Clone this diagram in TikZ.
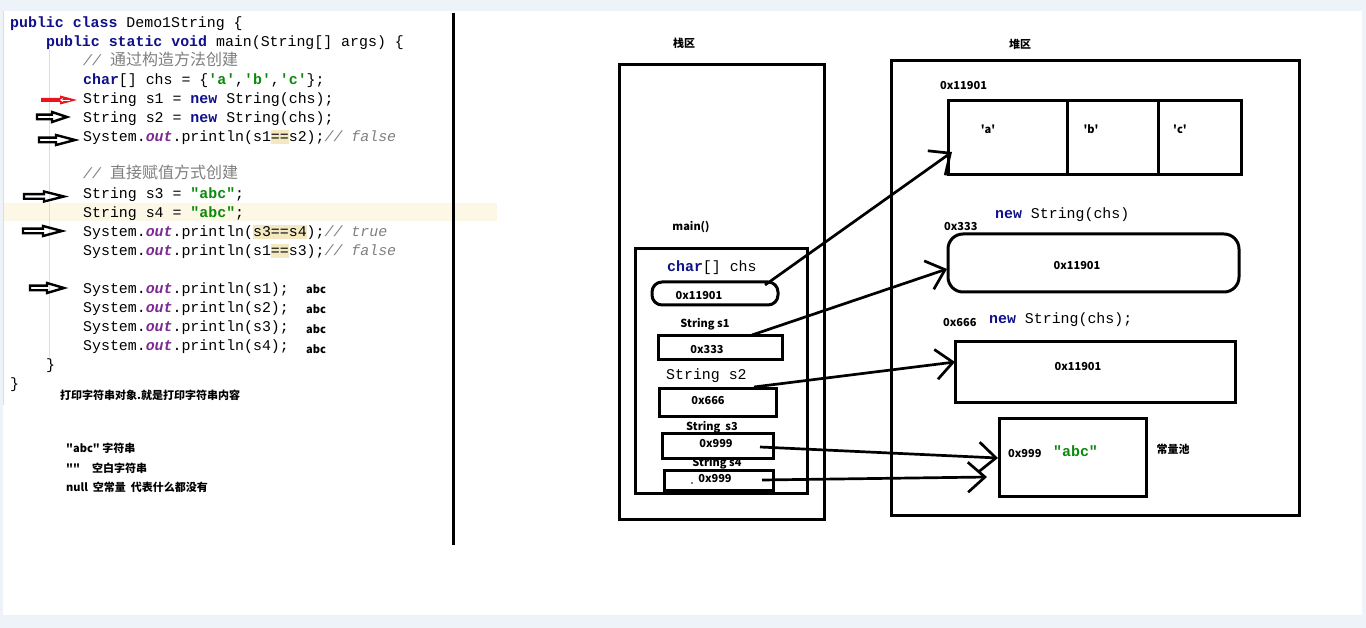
\documentclass[tikz,border=0pt]{standalone}
\usepackage{fontspec}
\usetikzlibrary{arrows.meta}
\setmainfont{Liberation Sans}
\newfontfamily\codefont{Liberation Mono}
\newfontfamily\cjk{Noto Sans CJK SC}
\definecolor{bgc}{HTML}{EEF2F9}
\definecolor{kwc}{HTML}{10108A}
\definecolor{strc}{HTML}{0A8A0A}
\definecolor{outc}{HTML}{7A2A90}
\definecolor{cmtc}{HTML}{808080}
\definecolor{hlc}{HTML}{F3E8C0}
\definecolor{linehl}{HTML}{FDF8E6}
\definecolor{guide}{HTML}{DDDDDD}
\definecolor{redarrow}{HTML}{E8141E}
\newcommand\cK[1]{{\bfseries\color{kwc}#1}}
\newcommand\cS[1]{{\bfseries\color{strc}#1}}
\newcommand\cO{{\bfseries\itshape\color{outc}out}}
\newcommand\cC[1]{{\itshape\color{cmtc}#1}}
\newcommand\cH[1]{{\setlength{\fboxsep}{0pt}\colorbox{hlc}{\vphantom{Ag(}#1}}}
\newcommand\cQ{\textquotesingle}
\newcommand\cZh[1]{{\cjk\fontsize{16}{18}\selectfont\color{cmtc}#1}}
\newcommand\blkarrow[4]{\draw[hollowarrow] (#1,#4-2.3) -- (#2,#4-2.3) -- (#2,#4-5) -- (#3,#4) -- (#2,#4+5) -- (#2,#4+2.3) -- (#1,#4+2.3) -- cycle;}
\tikzset{
  code/.style={anchor=west, inner sep=0pt, text height=13.5pt, text depth=3pt, font=\codefont\fontsize{14.9}{18}\selectfont},
  lbl/.style={inner sep=0pt, font=\cjk\bfseries\fontsize{11}{13}\selectfont},
  lblw/.style={lbl, anchor=west},
  box/.style={draw, line width=3pt, inner sep=0pt},
  hollowarrow/.style={draw, line width=2.4pt, line join=miter},
  conn/.style={line width=2.7pt, -{Straight Barb[length=17pt,width=30pt,line width=2.7pt]}},
}
\begin{document}
\begin{tikzpicture}[x=1pt,y=-1pt]
\useasboundingbox (0,0) rectangle (1366,628);
\fill[bgc] (0,0) rectangle (1366,628);
\fill[white] (3,11) rectangle (1362,615);
% editor decorations
\fill[linehl] (3,203) rectangle (497,221);
\draw[guide, line width=0.8pt] (3.5,11) -- (3.5,405);
\draw[guide, line width=0.8pt] (49,50) -- (49,357);
% code
\node[code] (l1) at (10,22) {\cK{public class} Demo1String \{};
\node[code] (l2) at (46,41) {\cK{public static void} main(String[] args) \{};
\node[code] (l3) at (83,60) {\cC{//} \cZh{通过构造方法创建}};
\node[code] (l4) at (83,79) {\cK{char}[] chs = \{\cS{\cQ a\cQ},\cS{\cQ b\cQ},\cS{\cQ c\cQ}\};};
\node[code] (l5) at (83,98) {String s1 = \cK{new} String(chs);};
\node[code] (l6) at (83,117) {String s2 = \cK{new} String(chs);};
\node[code] (l7) at (83,136) {System.\cO.println(s1\cH{==}s2);\cC{// false}};
\node[code] (l8) at (83,173) {\cC{//} \cZh{直接赋值方式创建}};
\node[code] (l9) at (83,193) {String s3 = \cS{"abc"};};
\node[code] (l10) at (83,212) {String s4 = \cS{"abc"};};
\node[code] (l11) at (83,231) {System.\cO.println(\cH{s3==s4});\cC{// true}};
\node[code] (l12) at (83,250) {System.\cO.println(s1\cH{==}s3);\cC{// false}};
\node[code] (l13) at (83,288) {System.\cO.println(s1);};
\node[code] (l14) at (83,307) {System.\cO.println(s2);};
\node[code] (l15) at (83,326) {System.\cO.println(s3);};
\node[code] (l16) at (83,345) {System.\cO.println(s4);};
\node[code] (l17) at (46,364) {\}};
\node[code] (l18) at (10,383) {\}};
% output labels
\node[lblw] (o1) at (306,289) {abc};
\node[lblw] (o2) at (306,309) {abc};
\node[lblw] (o3) at (306,329) {abc};
\node[lblw] (o4) at (306,349) {abc};
% notes
\node[lblw] (n1) at (60,395) {打印字符串对象.就是打印字符串内容};
\node[lblw] (n2) at (66,448) {"abc" 字符串};
\node[lblw] (n3) at (66,468) {""\hspace{12pt}空白字符串};
\node[lblw] (n4) at (66,487) {null\hspace{5pt}空常量\hspace{5pt}代表什么都没有};
% margin arrows
\fill[redarrow] (41,98) -- (60,98) -- (60,95.5) -- (77,100) -- (60,104.5) -- (60,102) -- (41,102) -- cycle;
\draw[white, line width=0.9pt, {Stealth[length=3pt,width=4pt]}-] (60,100) -- (70,100);
\blkarrow{37}{52}{67}{117}
\blkarrow{39}{56}{75}{140}
\blkarrow{24}{44}{64}{196.5}
\blkarrow{23}{43}{62}{231}
\blkarrow{30}{47}{64}{288}
% divider
\draw[line width=3pt] (453,13) -- (453,545);
% stack area
\node[lbl] (stk) at (684,43) {栈区};
\node[box, minimum width=205pt, minimum height=454pt] (stack) at (721.5,292) {};
\node[lbl] (mainl) at (691,227) {main()};
\node[box, minimum width=172pt, minimum height=244pt] (mainbox) at (721,371) {};
\node[code] (chsl) at (667,266) {\cK{char}[] chs};
\node[box, rounded corners=10pt, minimum width=126pt, minimum height=23pt] (chsbox) at (715,293.5) {};
\node[lbl] (chsv) at (699,296) {0x11901};
\node[lbl] (s1l) at (705,324) {String s1};
\node[box, minimum width=124pt, minimum height=24pt] (s1box) at (720,348) {};
\node[lbl] (s1v) at (707,350) {0x333};
\node[code] (s2l) at (666,374) {String s2};
\node[box, minimum width=117pt, minimum height=28pt] (s2box) at (717.5,402) {};
\node[lbl] (s2v) at (708,401) {0x666};
\node[lbl] (s3l) at (712,427) {String\hspace{5pt}s3};
\node[box, minimum width=111pt, minimum height=25pt] (s3box) at (717.5,445.5) {};
\node[lbl] (s3v) at (716,444) {0x999};
\node[lbl] (s4l) at (717,463) {String s4};
\node[box, minimum width=109pt, minimum height=20pt] (s4box) at (718.5,480) {};
\node[lbl] (s4v) at (715,479) {0x999};
\fill (692,483) circle (0.8pt);
% heap area
\node[lbl] (hp) at (1020,44) {堆区};
\node[box, minimum width=408pt, minimum height=454pt] (heap) at (1095,288) {};
\node[lblw] (arrl) at (940,86) {0x11901};
\node[box, minimum width=119pt, minimum height=74pt] (ca) at (1007.5,138) {};
\node[box, minimum width=91pt, minimum height=74pt] (cb) at (1112.5,138) {};
\node[box, minimum width=83pt, minimum height=74pt] (cc) at (1199.5,138) {};
\node[lbl] (ta) at (988,129) {\cQ a\cQ};
\node[lbl] (tb) at (1091,129) {\cQ b\cQ};
\node[lbl] (tc) at (1180,129) {\cQ c\cQ};
\node[code] (ns1) at (995,213) {\cK{new} String(chs)};
\node[lblw] (a333) at (944,227) {0x333};
\node[box, rounded corners=15pt, minimum width=291pt, minimum height=58pt] (obj1) at (1093.5,263) {};
\node[lbl] (obj1v) at (1077,266) {0x11901};
\node[lblw] (a666) at (943,323) {0x666};
\node[code] (ns2) at (989,318) {\cK{new} String(chs);};
\node[box, minimum width=280pt, minimum height=60pt] (obj2) at (1095,372) {};
\node[lbl] (obj2v) at (1078,367) {0x11901};
\node[box, minimum width=147pt, minimum height=78pt] (cpool) at (1072.5,457) {};
\node[lblw] (a999) at (1008,454) {0x999};
\node[code] (abc) at (1053,451) {\cS{"abc"}};
\node[lbl] (cpl) at (1173,449) {常量池};
% connectors
\coordinate (a1s) at (765,285); \coordinate (a1e) at (952,152);
\coordinate (a2s) at (752,335); \coordinate (a2e) at (947,269);
\coordinate (a3s) at (754,387); \coordinate (a3e) at (955,362);
\coordinate (a4s) at (760,447); \coordinate (a4e) at (998,458);
\coordinate (a5s) at (762,480); \coordinate (a5e) at (987,477);
\draw[conn] (a1s) -- (a1e);
\draw[conn] (a2s) -- (a2e);
\draw[conn] (a3s) -- (a3e);
\draw[conn] (a4s) -- (a4e);
\draw[conn] (a5s) -- (a5e);
\end{tikzpicture}
\end{document}
